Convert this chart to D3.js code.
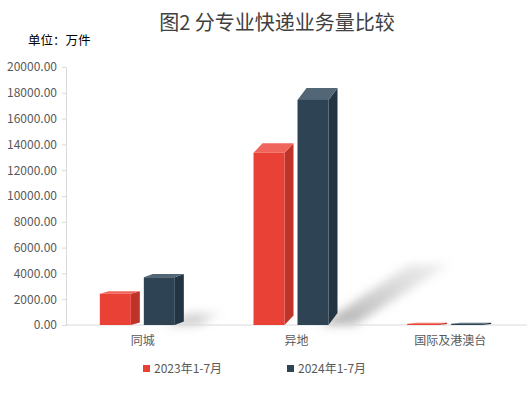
<!DOCTYPE html>
<html>
<head>
<meta charset="utf-8">
<script src="https://cdn.jsdelivr.net/npm/d3@7"></script>
<style>
  body { margin: 0; background: #fff; }
  text { font-family: "Noto Sans CJK SC", "Noto Sans", sans-serif; }
</style>
</head>
<body>
<div class="chart"></div>
<script>
var categories = ['同城', '异地', '国际及港澳台'];
var seriesNames = ['2023年1-7月', '2024年1-7月'];
var values2023 = [2420, 13350, 90];
var values2024 = [3700, 17450, 95];
var yTicks = [0, 2000, 4000, 6000, 8000, 10000, 12000, 14000, 16000, 18000, 20000];

var w = 530, h = 394;
var plotLeft = 66, plotRight = 527, plotTop = 67, plotBottom = 325;

var colors = [
  {front: '#e94136', side: '#bf3429', top: '#f0655b'},
  {front: '#2e4454', side: '#233543', top: '#526676'}
];

var svg = d3.select('.chart').append('svg')
  .attr('width', w)
  .attr('height', h);

var defs = svg.append('defs');
defs.append('filter')
  .attr('id', 'blur')
  .attr('x', '-50%').attr('y', '-50%')
  .attr('width', '200%').attr('height', '200%')
  .append('feGaussianBlur')
  .attr('stdDeviation', 5);

var grad = defs.append('linearGradient')
  .attr('id', 'shadowGrad')
  .attr('x1', 0).attr('y1', 1).attr('x2', 1).attr('y2', 0);
grad.append('stop').attr('offset', '0%').attr('stop-color', '#8c8c8c').attr('stop-opacity', 0.7);
grad.append('stop').attr('offset', '100%').attr('stop-color', '#b0b0b0').attr('stop-opacity', 0.2);

var x = d3.scaleBand().domain(categories).range([plotLeft, plotRight]);
var y = d3.scaleLinear().domain([0, 20000]).range([plotBottom, plotTop]);

// title
svg.append('text')
  .attr('x', 277).attr('y', 30)
  .attr('text-anchor', 'middle')
  .attr('font-size', 20)
  .attr('fill', '#404040')
  .text('图2 分专业快递业务量比较');

svg.append('text')
  .attr('x', 28).attr('y', 45)
  .attr('font-size', 12.5)
  .attr('fill', '#000')
  .text('单位：万件');

// y axis
var yAxis = d3.axisLeft(y)
  .tickValues(yTicks)
  .tickSize(4)
  .tickPadding(5)
  .tickFormat(d3.format('.2f'));

var yg = svg.append('g')
  .attr('transform', 'translate(' + plotLeft + ',0)')
  .call(yAxis);
yg.select('.domain').attr('stroke', '#d9d9d9');
yg.selectAll('.tick line').attr('stroke', '#d9d9d9');
yg.selectAll('.tick text')
  .attr('fill', '#595959')
  .attr('font-size', 12)
  .style('font-family', '"Noto Sans CJK SC", sans-serif');

// shadows behind bars
var series = [values2023, values2024];
var barW = 31;
var offsets = [-43, 1];

var shadowG = svg.append('g').attr('filter', 'url(#blur)');
categories.forEach(function(c, i) {
  var hh = plotBottom - y(values2024[i]);
  if (hh < 5) return;
  var x0 = x(c) + x.bandwidth() / 2 + offsets[1];
  var pts = [
    [x0 + barW - 8, plotBottom],
    [x0 + barW + 26, plotBottom],
    [x0 + barW + 26 + hh * 0.42, plotBottom - hh * 0.27],
    [x0 + barW + hh * 0.36, plotBottom - hh * 0.27]
  ];
  shadowG.append('polygon')
    .attr('points', pts.map(function(p) { return p.join(','); }).join(' '))
    .attr('fill', 'url(#shadowGrad)');
});

// x axis baseline
svg.append('line')
  .attr('x1', plotLeft).attr('x2', plotRight)
  .attr('y1', plotBottom).attr('y2', plotBottom)
  .attr('stroke', '#d9d9d9');

// 3d bars
series.forEach(function(vals, s) {
  var g = svg.append('g');
  categories.forEach(function(c, i) {
    var x0 = x(c) + x.bandwidth() / 2 + offsets[s];
    var yt = y(vals[i]);
    var hh = plotBottom - yt;
    var dx = 9;
    var dy = Math.min(12, 1 + hh * 0.05);
    // side face
    g.append('polygon')
      .attr('points', [
        [x0 + barW, yt], [x0 + barW + dx, yt - dy],
        [x0 + barW + dx, plotBottom - dy], [x0 + barW, plotBottom]
      ].map(function(p) { return p.join(','); }).join(' '))
      .attr('fill', colors[s].side);
    // top face
    g.append('polygon')
      .attr('points', [
        [x0, yt], [x0 + dx, yt - dy],
        [x0 + barW + dx, yt - dy], [x0 + barW, yt]
      ].map(function(p) { return p.join(','); }).join(' '))
      .attr('fill', colors[s].top);
    // front face
    g.append('rect')
      .attr('x', x0).attr('y', yt)
      .attr('width', barW).attr('height', Math.max(hh, 1))
      .attr('fill', colors[s].front);
  });
});

// category labels
svg.append('g').selectAll('text')
  .data(categories)
  .enter().append('text')
  .attr('x', function(d) { return x(d) + x.bandwidth() / 2; })
  .attr('y', 345)
  .attr('text-anchor', 'middle')
  .attr('font-size', 12)
  .attr('fill', '#595959')
  .text(function(d) { return d; });

// legend
var legendX = [143, 287];
seriesNames.forEach(function(name, s) {
  var lg = svg.append('g').attr('transform', 'translate(' + legendX[s] + ',369)');
  lg.append('rect')
    .attr('x', 0).attr('y', -4)
    .attr('width', 7).attr('height', 7)
    .attr('fill', colors[s].front);
  lg.append('text')
    .attr('x', 11).attr('y', 4)
    .attr('font-size', 12)
    .attr('fill', '#595959')
    .text(name);
});
</script>
</body>
</html>
